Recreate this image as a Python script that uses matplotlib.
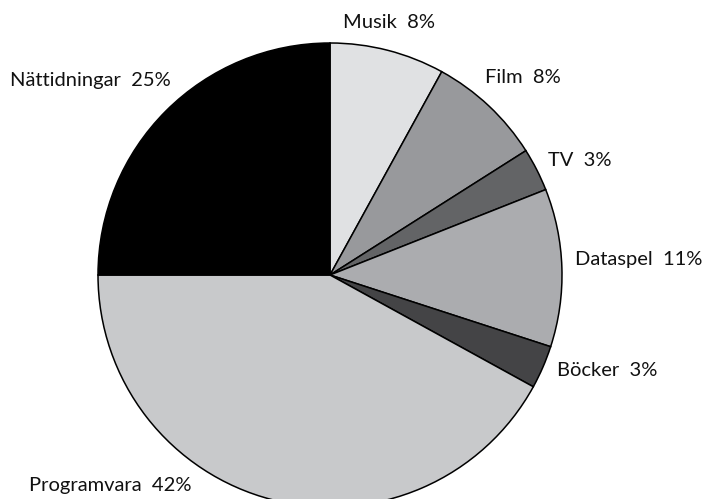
import matplotlib
matplotlib.use("Agg")
import matplotlib.pyplot as plt

# data, clockwise from 12 o'clock
labels = ["Musik", "Film", "TV", "Dataspel", "Böcker", "Programvara", "Nättidningar"]
shares = [8, 8, 3, 11, 3, 42, 25]
colors = ["#e0e1e3", "#98999c", "#636466", "#abacaf", "#444446", "#c8c9cb", "#000000"]

# label anchor (left x, centre y) in pixel coords, y measured from the top
label_pos = [(343, 22), (485, 77), (548, 160), (575, 259), (557, 370), (29, 485), (10, 80)]

W, H = 706, 499
fig = plt.figure(figsize=(W / 100, H / 100), dpi=100)
ax = fig.add_axes([0, 0, 1, 1])

ax.pie(
    shares,
    colors=colors,
    startangle=90,
    counterclock=False,
    center=(330, H - 275),
    radius=232,
    frame=True,
    wedgeprops={"edgecolor": "black", "linewidth": 1.1},
)

for name, val, (x, y) in zip(labels, shares, label_pos):
    ax.text(x, H - y, f"{name}  {val}%", ha="left", va="center",
            fontsize=14.5, family="Lato", color="#111111")

ax.set_xlim(0, W)
ax.set_ylim(0, H)
ax.set_aspect("equal")
ax.axis("off")

fig.savefig("out.png", dpi=100)
